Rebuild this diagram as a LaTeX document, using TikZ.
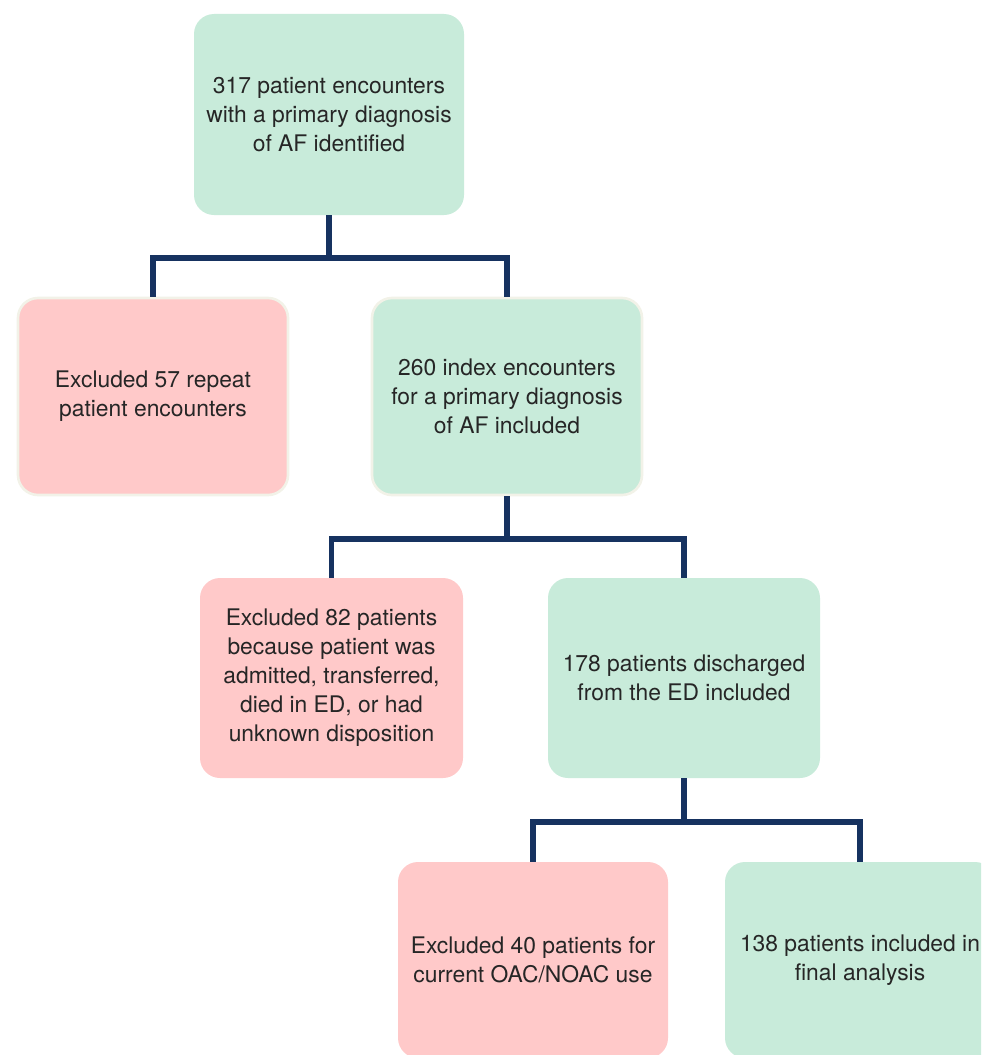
\documentclass[tikz,border=0pt]{standalone}
\usepackage{fontspec}
\setmainfont{TeX Gyre Heros}
\usepackage{tikz}

\definecolor{incl}{RGB}{200,235,218}
\definecolor{excl}{RGB}{255,201,201}
\definecolor{busline}{RGB}{22,50,96}
\definecolor{rim}{RGB}{242,242,232}
\definecolor{txt}{RGB}{38,38,38}

\tikzset{
  flowbox/.style={rectangle, rounded corners=0.4cm, align=center, text=txt,
    font=\fontsize{13}{16.5}\selectfont, inner sep=0pt},
  inbox/.style={flowbox, fill=incl},
  exbox/.style={flowbox, fill=excl},
  rimmed/.style={draw=rim, line width=1.5pt},
  bus/.style={draw=busline, line width=3.4pt}
}

\begin{document}
\begin{tikzpicture}
		\path[use as bounding box] (0,0) rectangle (19.62,-21.1);
		\clip (0,0) rectangle (19.62,-21.1);
		% level 0
		\node[inbox, minimum width=5.4cm, minimum height=4.02cm] (top) at (6.58,-2.29)
			{317 patient encounters\\with a primary diagnosis\\of AF identified};
		% level 1
		\node[exbox, rimmed, minimum width=5.4cm, minimum height=3.94cm] (rep) at (3.06,-7.93)
			{Excluded 57 repeat\\patient encounters};
		\node[inbox, rimmed, minimum width=5.4cm, minimum height=3.94cm] (idx) at (10.14,-7.93)
			{260 index encounters\\for a primary diagnosis\\of AF included};
		% level 2
		\node[exbox, minimum width=5.26cm, minimum height=4cm] (adm) at (6.63,-13.56)
			{Excluded 82 patients\\because patient was\\admitted, transferred,\\died in ED, or had\\unknown disposition};
		\node[inbox, minimum width=5.44cm, minimum height=4cm] (dis) at (13.68,-13.56)
			{178 patients discharged\\from the ED included};
		% level 3 (cut at the page edge)
		\node[exbox, minimum width=5.4cm, minimum height=3.92cm] (oac) at (10.66,-19.2)
			{Excluded 40 patients for\\current OAC/NOAC use};
		\node[inbox, minimum width=5.4cm, minimum height=3.92cm] (fin) at (17.2,-19.2)
			{138 patients included in\\final analysis};
		% connectors
		\draw[bus] (top.south) -- ++(0,-0.86) -| (rep.north);
		\draw[bus] (top.south) -- ++(0,-0.86) -| (idx.north);
		\draw[bus] (idx.south) -- ++(0,-0.86) -| (adm.north);
		\draw[bus] (idx.south) -- ++(0,-0.86) -| (dis.north);
		\draw[bus] (dis.south) -- ++(0,-0.88) -| (oac.north);
		\draw[bus] (dis.south) -- ++(0,-0.88) -| (fin.north);
\end{tikzpicture}
\end{document}
